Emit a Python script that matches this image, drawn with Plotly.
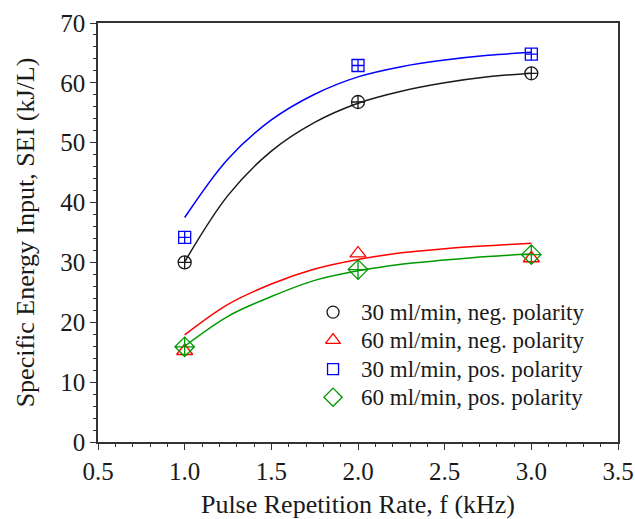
import plotly.graph_objects as go

# Measured data points
freq = [1.0, 2.0, 3.0]
sei_30_neg = [30.0, 56.8, 61.6]
sei_60_neg = [15.2, 31.5, 30.7]
sei_30_pos = [34.2, 62.9, 64.8]
sei_60_pos = [15.9, 28.8, 31.3]

# Fitted curves
fit_freq = [1.0, 1.25, 1.5, 1.75, 2.0, 2.25, 2.5, 2.75, 3.0]
fit_30_neg = [30.1, 41.2, 48.6, 53.4, 56.6, 58.6, 60.0, 61.0, 61.6]
fit_60_neg = [17.9, 23.0, 26.4, 28.9, 30.5, 31.6, 32.3, 32.8, 33.2]
fit_30_pos = [37.5, 47.3, 53.8, 58.1, 61.0, 62.7, 63.8, 64.6, 65.1]
fit_60_pos = [16.0, 21.0, 24.3, 27.0, 28.6, 29.7, 30.4, 31.0, 31.4]

names = ["30 ml/min, neg. polarity", "60 ml/min, neg. polarity",
         "30 ml/min, pos. polarity", "60 ml/min, pos. polarity"]
colors = ["#1a1a1a", "#ff0000", "#0000ff", "#009900"]
sym_data = ["circle-cross-open", "triangle-up-open", "square-cross-open", "diamond-cross-open"]
sym_leg = ["circle-open", "triangle-up-open", "square-open", "diamond-open"]
sizes = [13, 14, 12, 15]
points = [sei_30_neg, sei_60_neg, sei_30_pos, sei_60_pos]
fits = [fit_30_neg, fit_60_neg, fit_30_pos, fit_60_pos]

FONT = "Liberation Serif, Times New Roman, serif"
TXT = "#1a1a1a"

fig = go.Figure()
for f, c in zip(fits, colors):
    fig.add_trace(go.Scatter(x=fit_freq, y=f, mode="lines",
                             line=dict(color=c, width=1.5, shape="spline", smoothing=1.0),
                             showlegend=False, hoverinfo="skip"))
for p, c, s, sz, n in zip(points, colors, sym_data, sizes, names):
    fig.add_trace(go.Scatter(x=freq, y=p, mode="markers", name=n,
                             marker=dict(symbol=s, color=c, size=sz, line=dict(width=1.3, color=c)),
                             showlegend=False))

# Manual legend (symbols on an overlay axis in [0,1] space, text as annotations)
leg_sym_x = 0.452
leg_txt_x = 0.502
leg_rows = [0.310, 0.243, 0.174, 0.107]
for n, c, s, sz, yy in zip(names, colors, sym_leg, sizes, leg_rows):
    fig.add_trace(go.Scatter(x=[leg_sym_x], y=[yy], xaxis="x2", yaxis="y2", mode="markers",
                             marker=dict(symbol=s, color=c, size=sz - 1, line=dict(width=1.3, color=c)),
                             showlegend=False, hoverinfo="skip"))
    fig.add_annotation(x=leg_txt_x, y=yy, xref="paper", yref="paper", text=n, showarrow=False,
                       xanchor="left", yanchor="middle",
                       font=dict(family=FONT, size=23, color=TXT))

axis_common = dict(showline=True, linecolor="#333333", linewidth=1.5, mirror=True,
                   ticks="outside", tickcolor="#333333", tickwidth=1.3, ticklen=6,
                   showgrid=False, zeroline=False, automargin=False,
                   tickfont=dict(family=FONT, size=25, color=TXT))

fig.update_layout(
    width=635, height=519,
    margin=dict(l=98, r=17, t=23, b=77),
    paper_bgcolor="white", plot_bgcolor="white",
    font=dict(family=FONT, color=TXT),
    xaxis=dict(range=[0.5, 3.5], dtick=0.5, tick0=0.5, tickformat=".1f",
               title=dict(text="Pulse Repetition Rate, f (kHz)", font=dict(family=FONT, size=26, color=TXT), standoff=17),
               minor=dict(dtick=0.1, ticks="outside", ticklen=3, tickcolor="#333333", tickwidth=1.2),
               **axis_common),
    yaxis=dict(range=[0, 70], dtick=10,
               title=dict(text="Specific Energy Input, SEI (kJ/L)", font=dict(family=FONT, size=26, color=TXT), standoff=18),
               minor=dict(dtick=2, ticks="outside", ticklen=3, tickcolor="#333333", tickwidth=1.2),
               **axis_common),
    xaxis2=dict(overlaying="x", range=[0, 1], visible=False, fixedrange=True),
    yaxis2=dict(overlaying="y", range=[0, 1], visible=False, fixedrange=True),
    showlegend=False,
)

fig.write_html("out.html",
               config={"displayModeBar": False},
               post_script="document.body.style.margin='0';document.body.style.overflow='hidden';")
